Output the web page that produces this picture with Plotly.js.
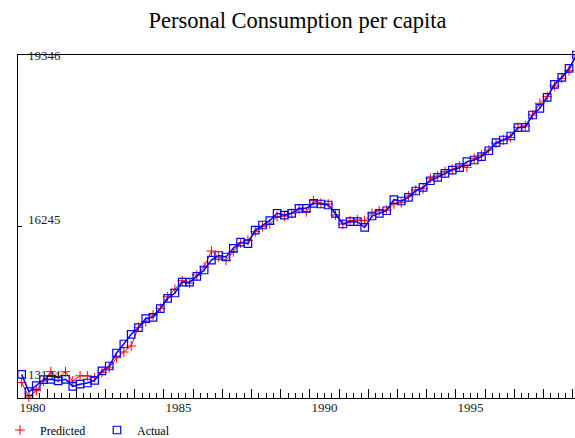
<!DOCTYPE html>
<html>
<head>
<meta charset="utf-8">
<script src="https://cdn.plot.ly/plotly-3.0.1.min.js"></script>
<style>
html,body{margin:0;padding:0;overflow:hidden;background:#fff;}
#chart{width:600px;height:438px;}
</style>
</head>
<body>
<div id="chart"></div>
<script>
// Quarterly data, 1980Q1 .. 1999Q1
const startYear = 1980;
const actual = [13555,13240,13352,13459,13465,13438,13465,13338,13376,13398,
  13447,13619,13706,13942,14105,14281,14401,14567,14589,14745,
  14934,15030,15226,15226,15333,15447,15628,15710,15683,15840,
  15951,15924,16172,16263,16341,16475,16444,16475,16566,16566,
  16657,16644,16626,16475,16281,16323,16323,16221,16426,16475,
  16522,16722,16698,16765,16880,16947,17066,17128,17201,17260,
  17302,17411,17442,17502,17610,17756,17805,17877,18028,18035,
  18258,18379,18579,18815,18942,19105,19346];
const predicted = [13407,13144,13258,13434,13603,13497,13603,13434,13528,13528,
  13494,13588,13673,13855,13960,14069,14408,14509,14631,14752,
  14963,15097,15253,15206,15356,15501,15791,15683,15623,15779,
  15937,15986,16142,16232,16281,16414,16426,16475,16548,16504,
  16704,16657,16644,16444,16281,16341,16354,16341,16475,16522,
  16535,16644,16668,16789,16898,16921,17110,17152,17230,17273,
  17333,17309,17473,17532,17623,17745,17805,17850,18035,18058,
  18258,18470,18590,18784,18923,19061,19330];
const tickYears = [1980,1981,1982,1983,1984,1985,1986,1987,1988,1989,1990,1991,1992,1993,1994,1995,1996,1997,1998,1999];
const labelYears = [1980,1985,1990,1995];
const labelText = ['1980','1985','1990','1995'];
const yTickVals = [13144,16245,19346];
const yTickText = ['13144','16245','19346'];
const yLabelShift = [23,7,0];

// quarter mid-points; year labels sit in the middle of their year
const t = actual.map((_, i) => startYear + (i + 0.5) / 4);
const labelPos = labelYears.map(y => y + 0.5);

const serif = 'Liberation Serif, Times New Roman, serif';
const RED = '#ff0000', BLUE = '#0000ff';

const traces = [
  {x: t, y: predicted, type: 'scatter', mode: 'lines', line: {color: RED, width: 1}, showlegend: false, hoverinfo: 'skip'},
  {x: t, y: predicted, type: 'scatter', mode: 'markers', name: 'Predicted', cliponaxis: false,
   marker: {symbol: 'cross-thin-open', size: 7, color: RED, line: {color: RED, width: 1}}},
  {x: t, y: actual, xaxis: 'x2', type: 'scatter', mode: 'lines', line: {color: BLUE, width: 1.5}, showlegend: false, hoverinfo: 'skip'},
  {x: t, y: actual, type: 'scatter', mode: 'markers', name: 'Actual', cliponaxis: false,
   marker: {symbol: 'square-open', size: 7.5, color: BLUE, line: {color: BLUE, width: 1.2}}}
];

const annotations = yTickVals.map((v, i) => ({
  xref: 'paper', yref: 'y', x: 0, y: v, xanchor: 'left', yanchor: 'middle',
  xshift: 8, yshift: yLabelShift[i], showarrow: false, text: yTickText[i],
  font: {family: serif, size: 13, color: '#222'}
}));

const layout = {
  width: 600, height: 438,
  margin: {l: 18, r: 20, t: 55, b: 40, autoexpand: false},
  paper_bgcolor: '#fff', plot_bgcolor: '#fff',
  title: {text: 'Personal Consumption per capita', x: 297.5/600, xanchor: 'center', y: 1 - 20/438, yanchor: 'middle',
          font: {family: serif, size: 22.5, color: '#000'}},
  showlegend: true,
  legend: {orientation: 'h', xref: 'container', yref: 'container', x: -2/600, xanchor: 'left', y: 8/438, yanchor: 'middle',
           font: {family: serif, size: 12, color: '#000'}, entrywidth: 52, bgcolor: 'rgba(0,0,0,0)'},
  xaxis: {range: [1980, 1999.25], showgrid: false, zeroline: false, automargin: false,
          showline: true, linecolor: '#000', linewidth: 1, mirror: true,
          tickmode: 'array', tickvals: tickYears, showticklabels: false,
          ticks: 'inside', ticklen: 9, tickcolor: '#000', tickwidth: 1,
          minor: {tickmode: 'linear', tick0: 1980, dtick: 0.25, ticks: 'inside', ticklen: 5, tickcolor: '#000', tickwidth: 1, showgrid: false}},
  xaxis2: {overlaying: 'x', matches: 'x', anchor: 'y', side: 'bottom', range: [1980, 1999.25],
           showgrid: false, zeroline: false, automargin: false, showline: false,
           tickmode: 'array', tickvals: labelPos, ticktext: labelText, ticks: '',
           tickfont: {family: serif, size: 13, color: '#222'}},
  yaxis: {range: [13126, 19346], showgrid: false, zeroline: false, automargin: false,
          showline: true, linecolor: '#000', linewidth: 1, mirror: 'ticks',
          tickmode: 'array', tickvals: yTickVals, showticklabels: false,
          ticks: 'inside', ticklen: 4, tickcolor: '#000', tickwidth: 1},
  annotations: annotations
};

Plotly.newPlot('chart', traces, layout, {displayModeBar: false, staticPlot: true});
</script>
</body>
</html>
